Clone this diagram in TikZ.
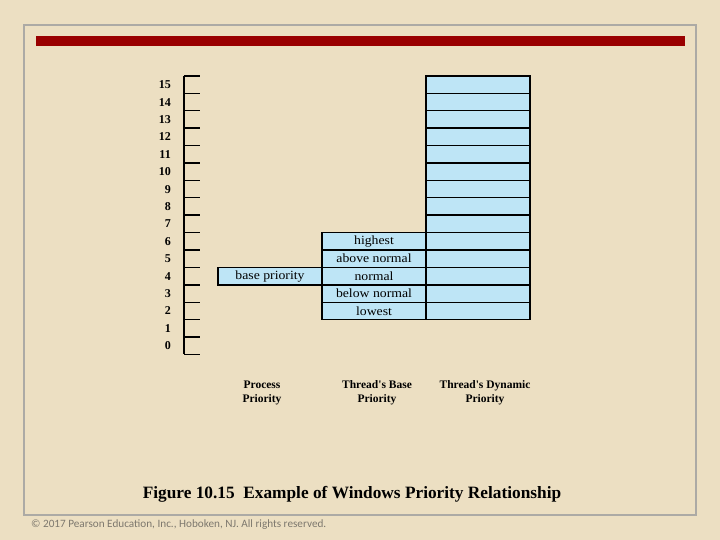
\documentclass[tikz,border=0pt]{standalone}
\usepackage{fontspec}
\setmainfont{Liberation Serif}
\newfontfamily\boxfont{Liberation Serif}[FakeStretch=1.1]
\newfontfamily\copyfont{Carlito}
\definecolor{parch}{RGB}{236,223,194}
\definecolor{boxblue}{RGB}{190,229,246}
\definecolor{barred}{RGB}{153,0,0}
\definecolor{framegray}{RGB}{172,170,165}
\definecolor{copygray}{RGB}{125,120,110}
\begin{document}
\begin{tikzpicture}[x=1pt,y=-1pt,
  cell/.style={draw=black, line width=1.4pt, fill=boxblue, minimum width=104pt,
    minimum height=17.4pt, inner sep=0pt, font=\boxfont\fontsize{12.5}{13}\selectfont},
  num/.style={anchor=east, inner sep=0pt, font=\bfseries\fontsize{12}{12}\selectfont},
  collabel/.style={align=center, inner sep=0pt, font=\bfseries\fontsize{11.5}{14}\selectfont},
  tick/.style={line width=1.4pt}]
\useasboundingbox (0,0) rectangle (720,540);
\fill[parch] (0,0) rectangle (720,540);
% frame and red bar
\draw[framegray, line width=1.6pt] (24,25) rectangle (696,515);
\fill[barred] (36,36) rectangle (685,46);
% axis
\draw[tick] (184,76) -- (184,354.4);
\foreach \k in {0,...,16} {
  \draw[tick] (184,76+\k*17.4) -- (200,76+\k*17.4);
}
\foreach \i in {0,...,15} {
  \node[num] (n\i) at (171,76+15*17.4-\i*17.4+8.7) {\i};
}
% dynamic priority column
\foreach \i in {2,...,15} {
  \node[cell] (dyn\i) at (478,76+15*17.4-\i*17.4+8.7) {};
}
% thread base priority column
\node[cell] (tb6) at (374,76+9*17.4+8.7) {highest};
\node[cell] (tb5) at (374,76+10*17.4+8.7) {above normal};
\node[cell] (tb4) at (374,76+11*17.4+8.7) {normal};
\node[cell] (tb3) at (374,76+12*17.4+8.7) {below normal};
\node[cell] (tb2) at (374,76+13*17.4+8.7) {lowest};
% process base priority
\node[cell] (bp) at (270,76+11*17.4+8.7) {base priority};
% column labels
\node[collabel] (lp) at (262,393) {Process\\Priority};
\node[collabel] (lb) at (377,393) {Thread\textquotesingle s Base\\Priority};
\node[collabel] (ld) at (485,393) {Thread\textquotesingle s Dynamic\\Priority};
% caption
\node[font=\bfseries\fontsize{17.3}{20}\selectfont] (cap) at (352,494) {Figure 10.15\ \ Example of Windows Priority Relationship};
\node[anchor=west, inner sep=0pt, text=copygray, font=\copyfont\fontsize{11.2}{12}\selectfont] (copy) at (31,525) {© 2017 Pearson Education, Inc., Hoboken, NJ. All rights reserved.};
\end{tikzpicture}
\end{document}
